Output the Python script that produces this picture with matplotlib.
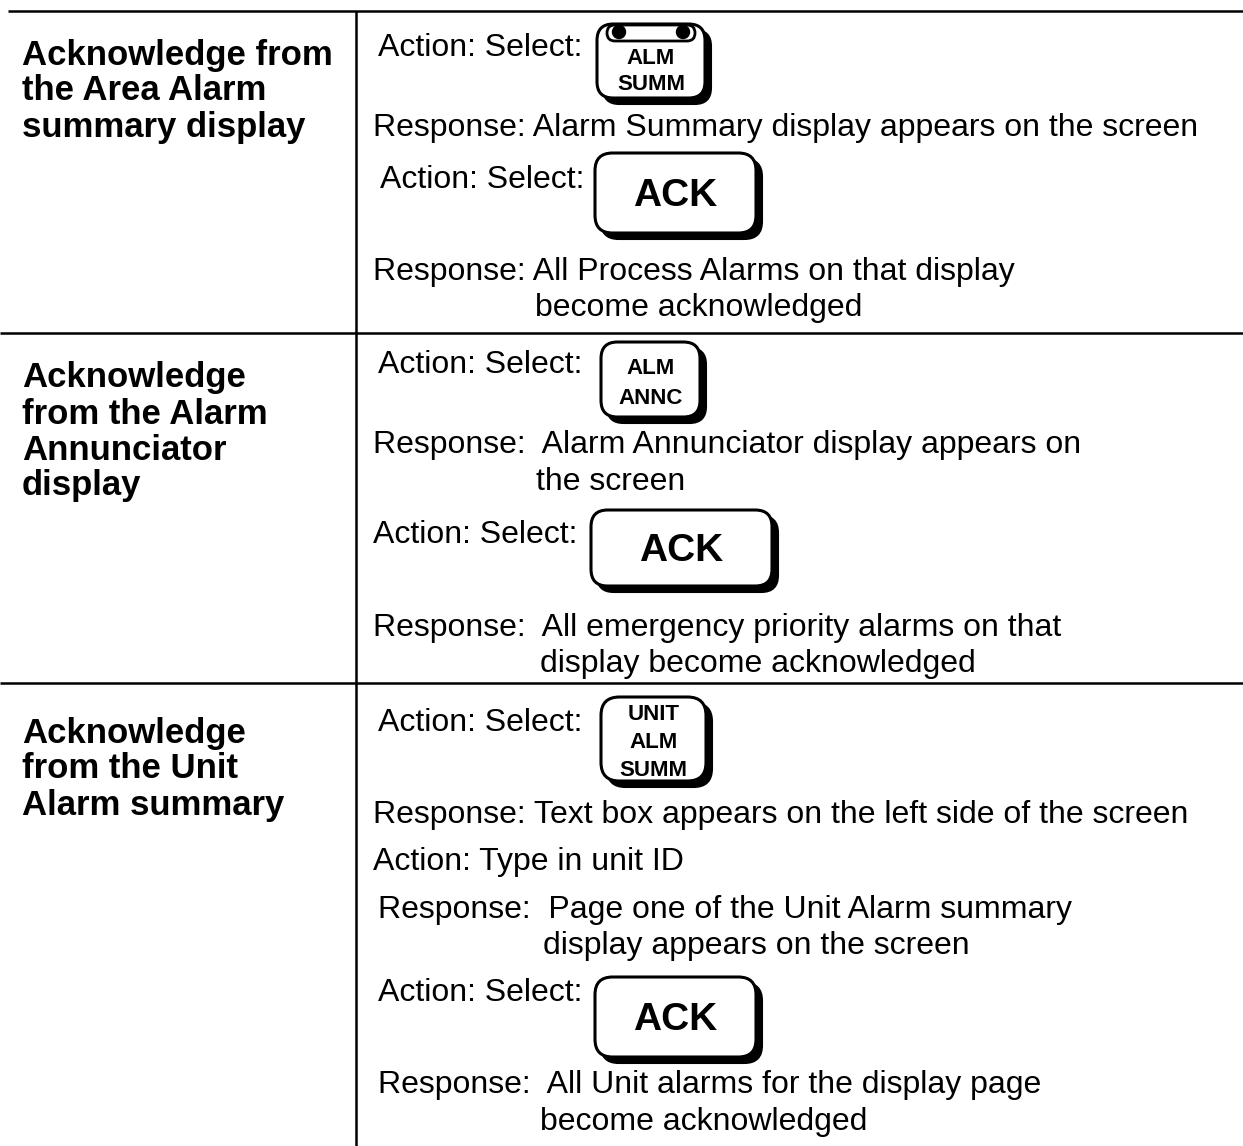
import matplotlib
matplotlib.use("Agg")
import matplotlib.pyplot as plt
from matplotlib.patches import FancyBboxPatch, Circle

W, H = 1243, 1146

# ---- content ----
left_titles = [
    ["Acknowledge from", "the Area Alarm", "summary display"],
    ["Acknowledge", "from the Alarm", "Annunciator", "display"],
    ["Acknowledge", "from the Unit", "Alarm summary"],
]
left_title_y = [55, 378, 733]

right_lines = [
    ("Action: Select:", 378, 48),
    ("Response: Alarm Summary display appears on the screen", 373, 128),
    ("Action: Select:", 380, 180),
    ("Response: All Process Alarms on that display", 373, 272),
    ("become acknowledged", 535, 308),
    ("Action: Select:", 378, 365),
    ("Response:  Alarm Annunciator display appears on", 373, 445),
    ("the screen", 536, 482),
    ("Action: Select:", 373, 535),
    ("Response:  All emergency priority alarms on that", 373, 628),
    ("display become acknowledged", 540, 664),
    ("Action: Select:", 378, 723),
    ("Response: Text box appears on the left side of the screen", 373, 815),
    ("Action: Type in unit ID", 373, 862),
    ("Response:  Page one of the Unit Alarm summary", 378, 910),
    ("display appears on the screen", 543, 946),
    ("Action: Select:", 378, 993),
    ("Response:  All Unit alarms for the display page", 378, 1085),
    ("become acknowledged", 540, 1122),
]

# keys: label lines, x0, y0, x1, y1, fontsize, holes
keys = [
    (["ALM", "SUMM"], 597, 24, 705, 98, 16, True),
    (["ACK"], 595, 153, 756, 233, 28, False),
    (["ALM", "ANNC"], 601, 342, 700, 417, 16, False),
    (["ACK"], 591, 510, 772, 586, 28, False),
    (["UNIT", "ALM", "SUMM"], 601, 697, 706, 781, 16, False),
    (["ACK"], 595, 977, 756, 1057, 28, False),
]

h_lines_y = [11, 333, 683]
v_line_x = 356

FONT = "Liberation Sans"

fig = plt.figure(figsize=(W / 100, H / 100), dpi=100)
ax = fig.add_axes([0, 0, 1, 1])
ax.set_xlim(0, W)
ax.set_ylim(H, 0)
ax.axis("off")

# grid lines
for i, y in enumerate(h_lines_y):
    ax.plot([8 if i == 0 else 0, W], [y, y], color="black", lw=1.8, solid_capstyle="butt")
ax.plot([v_line_x, v_line_x], [h_lines_y[0], H], color="black", lw=1.8, solid_capstyle="butt")

# left titles
for lines, y0 in zip(left_titles, left_title_y):
    for k, t in enumerate(lines):
        ax.text(22, y0 + 36 * k, t, fontsize=25, fontweight="bold", family=FONT,
                va="center", ha="left")

# right lines
for t, x, y in right_lines:
    ax.text(x, y, t, fontsize=23, family=FONT, va="center", ha="left")

# keys
for labels, x0, y0, x1, y1, fs, holes in keys:
    w, h = x1 - x0, y1 - y0
    r = min(w, h) * 0.22
    sh = FancyBboxPatch((x0 + 6, y0 + 6), w, h,
                        boxstyle=f"round,pad=0,rounding_size={r}",
                        fc="black", ec="black", lw=1.5, zorder=2)
    ax.add_patch(sh)
    bx = FancyBboxPatch((x0, y0), w, h,
                        boxstyle=f"round,pad=0,rounding_size={r}",
                        fc="white", ec="black", lw=2.2, zorder=3)
    ax.add_patch(bx)
    cx = (x0 + x1) / 2
    n = len(labels)
    if holes:
        bar = FancyBboxPatch((x0 + 10, y0 + 1), w - 20, 16,
                             boxstyle="round,pad=0,rounding_size=8",
                             fc="white", ec="black", lw=2, zorder=4)
        ax.add_patch(bar)
        for hx in (x0 + 22, x1 - 22):
            ax.add_patch(Circle((hx, y0 + 8), 6.5, fc="black", ec="black", zorder=5))
        ty = [y0 + 34, y0 + 61]
    elif n == 1:
        ty = [(y0 + y1) / 2 + 3]
    elif n == 2:
        ty = [y0 + 27, y0 + 56]
    else:
        ty = [y0 + 17, y0 + 46, y0 + 74]
    for t, yy in zip(labels, ty):
        ax.text(cx, yy, t, fontsize=fs, fontweight="bold", family=FONT,
                ha="center", va="center", zorder=6)

fig.savefig("out.png", dpi=100)
